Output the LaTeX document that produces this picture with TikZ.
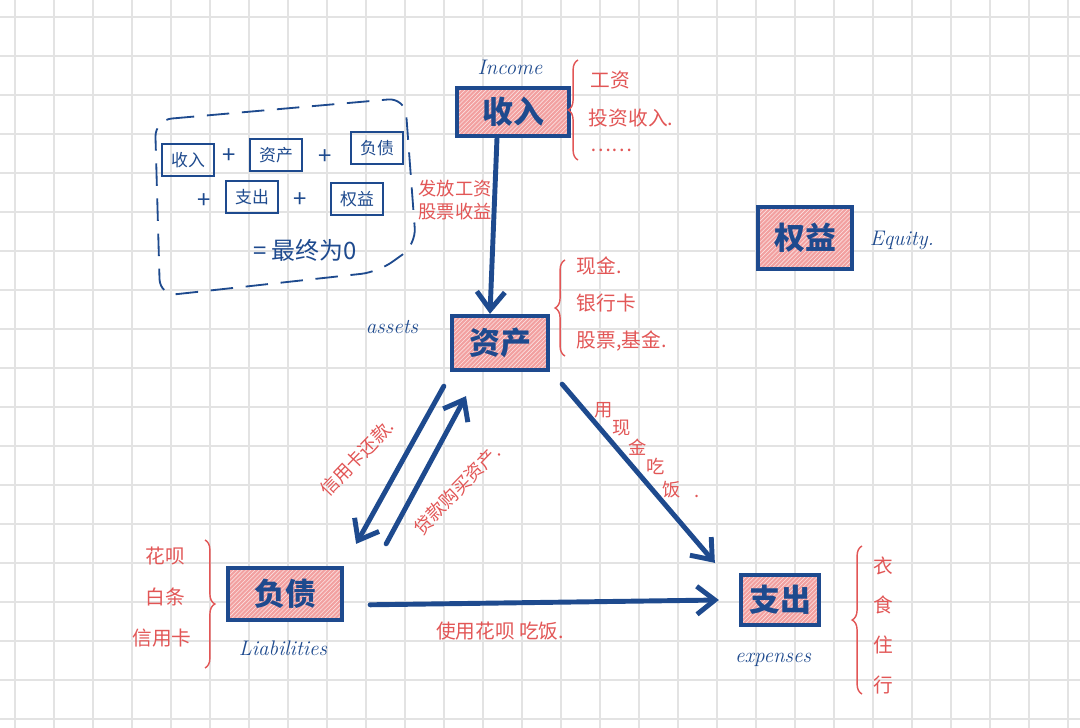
\documentclass[tikz,border=0pt]{standalone}
\usepackage{fontspec}
\newfontfamily\cjk{Noto Sans CJK SC}
\usetikzlibrary{
	calc,                      %计算
	arrows.meta,               %提供各种箭头
	patterns,                  %定义图样,如条纹
	decorations.pathreplacing  %大括号
}
\definecolor{inkblue}{HTML}{1E4A8E}
\definecolor{inkred}{HTML}{E25656}
\definecolor{boxpink}{HTML}{F2A0A0}
\definecolor{gridgray}{HTML}{E3E3E3}
\tikzset{
	every picture/.style={
		>={Straight Barb[length=4.5mm,width=7mm]}
}}
\tikzset{
	gridline/.style={draw=gridgray, line width=0.9pt},
	acct/.style={draw=inkblue, line width=3pt, preaction={fill=boxpink},
		pattern=north east lines, pattern color=white!70!boxpink,
		text=inkblue, font=\cjk\bfseries\fontsize{22}{24}\selectfont},
	mini/.style={draw=inkblue, line width=1.3pt, text=inkblue, inner sep=2pt,
		minimum width=1.3cm, minimum height=0.8cm,
		font=\cjk\fontsize{12}{14}\selectfont},
	flow/.style={->, draw=inkblue, line width=3.5pt, line cap=round},
	redtxt/.style={text=inkred, font=\cjk\fontsize{14}{17}\selectfont},
	redsmall/.style={text=inkred, inner sep=1pt, font=\cjk\fontsize{13}{16}\selectfont},
	bluetxt/.style={text=inkblue, font=\cjk\fontsize{17}{19}\selectfont},
	ink/.style={text=inkblue, font=\itshape\fontsize{15}{17}\selectfont},
	rbrace/.style={draw=inkred, line width=1pt, decorate,
		decoration={brace, amplitude=7pt}}
}

\begin{document}
\begin{tikzpicture}[x=0.025cm,y=-0.025cm]
	\fill[white] (0,0) rectangle (1080,728);
	\useasboundingbox (0,0) rectangle (1080,728);
	\foreach \i in {0,...,27} \draw[gridline] (15+39*\i,0) -- (15+39*\i,728);
	\foreach \j in {0,...,18} \draw[gridline] (0,17+39*\j) -- (1080,17+39*\j);
	
	\node (income) at (513,112) [acct,minimum width=2.8cm,minimum height=1.2cm] {收入};
	\node (assets) at (500,343) [acct,minimum width=2.4cm,minimum height=1.35cm] {资产};
	\node (equity) at (805,238) [acct,minimum width=2.35cm,minimum height=1.55cm] {权益};
	\node (liab) at (285,594) [acct,minimum width=2.85cm,minimum height=1.3cm] {负债};
	\node (expense) at (780,600) [acct,minimum width=1.95cm,minimum height=1.25cm] {支出};
	
	\node (incomeen) at (510,67) [ink] {Income};
	\node (assetsen) at (392,327) [ink] {assets};
	\node (equityen) at (902,240) [ink] {Equity.};
	\node (liaben) at (283,648) [ink] {Liabilities};
	\node (expenseen) at (773,660) [ink] {expenses};
	
	\draw[rbrace] (578,160) -- (578,60);
	\node (wage) at (586,80) [redtxt,anchor=west] {工资};
	\node (invest) at (584,118) [redtxt,anchor=west] {投资收入.};
	\node (more) at (586,150) [redtxt,anchor=west] {……};
	
	\draw[rbrace] (565,356) -- (565,260);
	\node (cash) at (572,266) [redtxt,anchor=west] {现金.};
	\node (card) at (572,303) [redtxt,anchor=west] {银行卡};
	\node (fund) at (572,341) [redtxt,anchor=west] {股票,基金.};
	
	\draw[rbrace] (205,540) -- (205,668);
	\node (huabei) at (165,556) [redtxt] {花呗};
	\node (baitiao) at (165,597) [redtxt] {白条};
	\node (credit) at (162,638) [redtxt] {信用卡};
	
	\draw[rbrace] (862,694) -- (862,546);
	\node (yi) at (883,566) [redtxt] {衣};
	\node (shi) at (883,605) [redtxt] {食};
	\node (zhu) at (883,645) [redtxt] {住};
	\node (xing) at (883,685) [redtxt] {行};
	
	\draw[flow] ([xshift=-0.4cm]income.south) -- ([xshift=-0.25cm]assets.north);
	\node (salary) at (455,200) [redsmall,align=center] {发放工资\\股票收益};
	
	\draw[flow] ([xshift=-0.15cm,yshift=-0.35cm]assets.south west) -- ([xshift=0.3cm,yshift=0.55cm]liab.north east);
	\node (repay) at (357,458) [redsmall,rotate=46] {信用卡还款.};
	
	\draw[flow] ([xshift=1.05cm,yshift=0.55cm]liab.north east) -- ([xshift=-0.85cm,yshift=-0.6cm]assets.south);
	\node (loan) at (457,490) [redsmall,rotate=46] {贷款购买资产.};
	
	\draw[flow] ([xshift=0.3cm,yshift=-0.3cm]assets.south east) -- ([xshift=-0.6cm,yshift=0.25cm]expense.north west);
	\node (meal1) at (604,410) [redsmall,inner sep=0pt] {用};
	\node (meal2) at (622,428) [redsmall,inner sep=0pt] {现};
	\node (meal3) at (638,447) [redsmall,inner sep=0pt] {金};
	\node (meal4) at (656,466) [redsmall,inner sep=0pt] {吃};
	\node (meal5) at (672,490) [redsmall,inner sep=0pt] {饭};
	\node (mealdot) at (697,496) [redsmall,inner sep=0pt] {.};
	
	\draw[flow] ([xshift=0.65cm,yshift=-0.27cm]liab.east) -- ([xshift=-0.5cm]expense.west);
	\node (spend) at (500,631) [redtxt] {使用花呗\ 吃饭.};
	
	\draw[inkblue, line width=1.3pt, dash pattern=on 16pt off 9pt, rounded corners=12pt]
		(155,120) -- (405,98) -- (416,245) -- (378,272) -- (160,296) -- cycle;
	\node (fincome) at (188,160) [mini] {收入};
	\node (fplus1) at (229,156) [bluetxt] {+};
	\node (fassets) at (276,155) [mini] {资产};
	\node (fplus2) at (325,157) [bluetxt] {+};
	\node (fliab) at (377,148) [mini] {负债};
	\node (fplus3) at (204,201) [bluetxt] {+};
	\node (fexpense) at (252,197) [mini] {支出};
	\node (fplus4) at (300,200) [bluetxt] {+};
	\node (fequity) at (357,199) [mini] {权益};
	\node (fzero) at (305,250) [bluetxt] {= 最终为0};
\end{tikzpicture}
\end{document}
